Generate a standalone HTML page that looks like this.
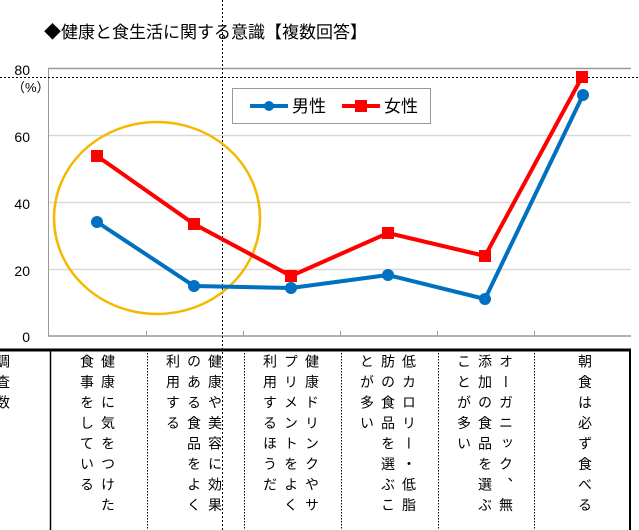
<!DOCTYPE html>
<html><head><meta charset="utf-8"><style>
body{margin:0;width:639px;height:530px;background:#fff;position:relative;overflow:hidden;font-family:"Liberation Sans","Noto Sans CJK JP",sans-serif;}
.cell{position:absolute;top:354px;writing-mode:vertical-rl;font-size:14px;line-height:21px;letter-spacing:6.5px;color:#000;}
</style></head><body>
<svg width="639" height="530" style="position:absolute;left:0;top:0">
<text x="44" y="38" font-size="17" font-family="Liberation Sans, Noto Sans CJK JP, sans-serif">◆健康と食生活に関する意識【複数回答】</text>
<g font-size="14" font-family="Liberation Sans, Noto Sans CJK JP, sans-serif" text-anchor="end">
<text x="30" y="75">80</text><text x="30" y="142">60</text><text x="30" y="209">40</text><text x="30" y="276">20</text><text x="30" y="342">0</text>
</g>
<text x="12" y="92" font-size="13" font-family="Liberation Sans, Noto Sans CJK JP, sans-serif">（%）</text>
<line x1="48" y1="68.5" x2="631" y2="68.5" stroke="#999" stroke-width="1.5"/>
<g stroke="#d9d9d9" stroke-width="1.5"><line x1="48" y1="135.5" x2="631" y2="135.5"/><line x1="48" y1="202.5" x2="631" y2="202.5"/><line x1="48" y1="269.5" x2="631" y2="269.5"/></g>
<line x1="48.5" y1="68" x2="48.5" y2="336" stroke="#999" stroke-width="1"/>
<line x1="48" y1="336" x2="631" y2="336" stroke="#999" stroke-width="1.5"/>
<g stroke="#999"><line x1="146.5" y1="331" x2="146.5" y2="336"/><line x1="243.5" y1="331" x2="243.5" y2="336"/><line x1="340.5" y1="331" x2="340.5" y2="336"/><line x1="437.5" y1="331" x2="437.5" y2="336"/><line x1="534.5" y1="331" x2="534.5" y2="336"/></g>
<line x1="0" y1="77.5" x2="639" y2="77.5" stroke="#000" stroke-dasharray="2,2"/>
<line x1="222.5" y1="0" x2="222.5" y2="530" stroke="#000" stroke-dasharray="2,2"/>
<ellipse cx="157" cy="218" rx="103" ry="96" fill="none" stroke="#f5b800" stroke-width="2.5"/>
<polyline points="97,222 194,286 291,288 388,275 485,299 583,95" fill="none" stroke="#0070c0" stroke-width="4"/>
<g fill="#0070c0"><circle cx="97" cy="222" r="6"/><circle cx="194" cy="286" r="6"/><circle cx="291" cy="288" r="6"/><circle cx="388" cy="275" r="6"/><circle cx="485" cy="299" r="6"/><circle cx="583" cy="95" r="6"/></g>
<polyline points="97,156 194,224 291,276 388,233 485,256 582,77" fill="none" stroke="#ff0000" stroke-width="4"/>
<g fill="#ff0000"><rect x="91" y="150" width="12" height="12"/><rect x="188" y="218" width="12" height="12"/><rect x="285" y="270" width="12" height="12"/><rect x="382" y="227" width="12" height="12"/><rect x="479" y="250" width="12" height="12"/><rect x="576" y="71" width="12" height="12"/></g>
<rect x="232.5" y="88.5" width="198" height="35" fill="#fff" stroke="#999"/>
<line x1="250" y1="106" x2="288" y2="106" stroke="#0070c0" stroke-width="4"/><circle cx="269" cy="106" r="5" fill="#0070c0"/>
<text x="292" y="112" font-size="17" font-family="Liberation Sans, Noto Sans CJK JP, sans-serif">男性</text>
<line x1="342" y1="106" x2="380" y2="106" stroke="#ff0000" stroke-width="4"/><rect x="355" y="100" width="12" height="12" fill="#ff0000"/>
<text x="384" y="112" font-size="17" font-family="Liberation Sans, Noto Sans CJK JP, sans-serif">女性</text>
<line x1="0" y1="350" x2="631" y2="350" stroke="#000" stroke-width="3"/>
<line x1="50.5" y1="350" x2="50.5" y2="530" stroke="#000" stroke-width="1.5"/>
<line x1="630" y1="350" x2="630" y2="530" stroke="#000" stroke-width="2"/>
<g stroke="#000" stroke-dasharray="1.5,1.5"><line x1="147.5" y1="350" x2="147.5" y2="530"/><line x1="244.5" y1="350" x2="244.5" y2="530"/><line x1="341.5" y1="350" x2="341.5" y2="530"/><line x1="438.5" y1="350" x2="438.5" y2="530"/><line x1="534.5" y1="350" x2="534.5" y2="530"/></g>
</svg>
<div class="cell" style="left:-8px">調査数</div>
<div class="cell" style="left:76px">健康に気をつけた食事をしている</div>
<div class="cell" style="left:162px">健康や美容に効果のある食品をよく利用する</div>
<div class="cell" style="left:259px">健康ドリンクやサプリメントをよく利用するほうだ</div>
<div class="cell" style="left:356px">低カロリー・低脂肪の食品を選ぶことが多い</div>
<div class="cell" style="left:453px">オーガニック、無添加の食品を選ぶことが多い</div>
<div class="cell" style="left:574px">朝食は必ず食べる</div>
</body></html>
